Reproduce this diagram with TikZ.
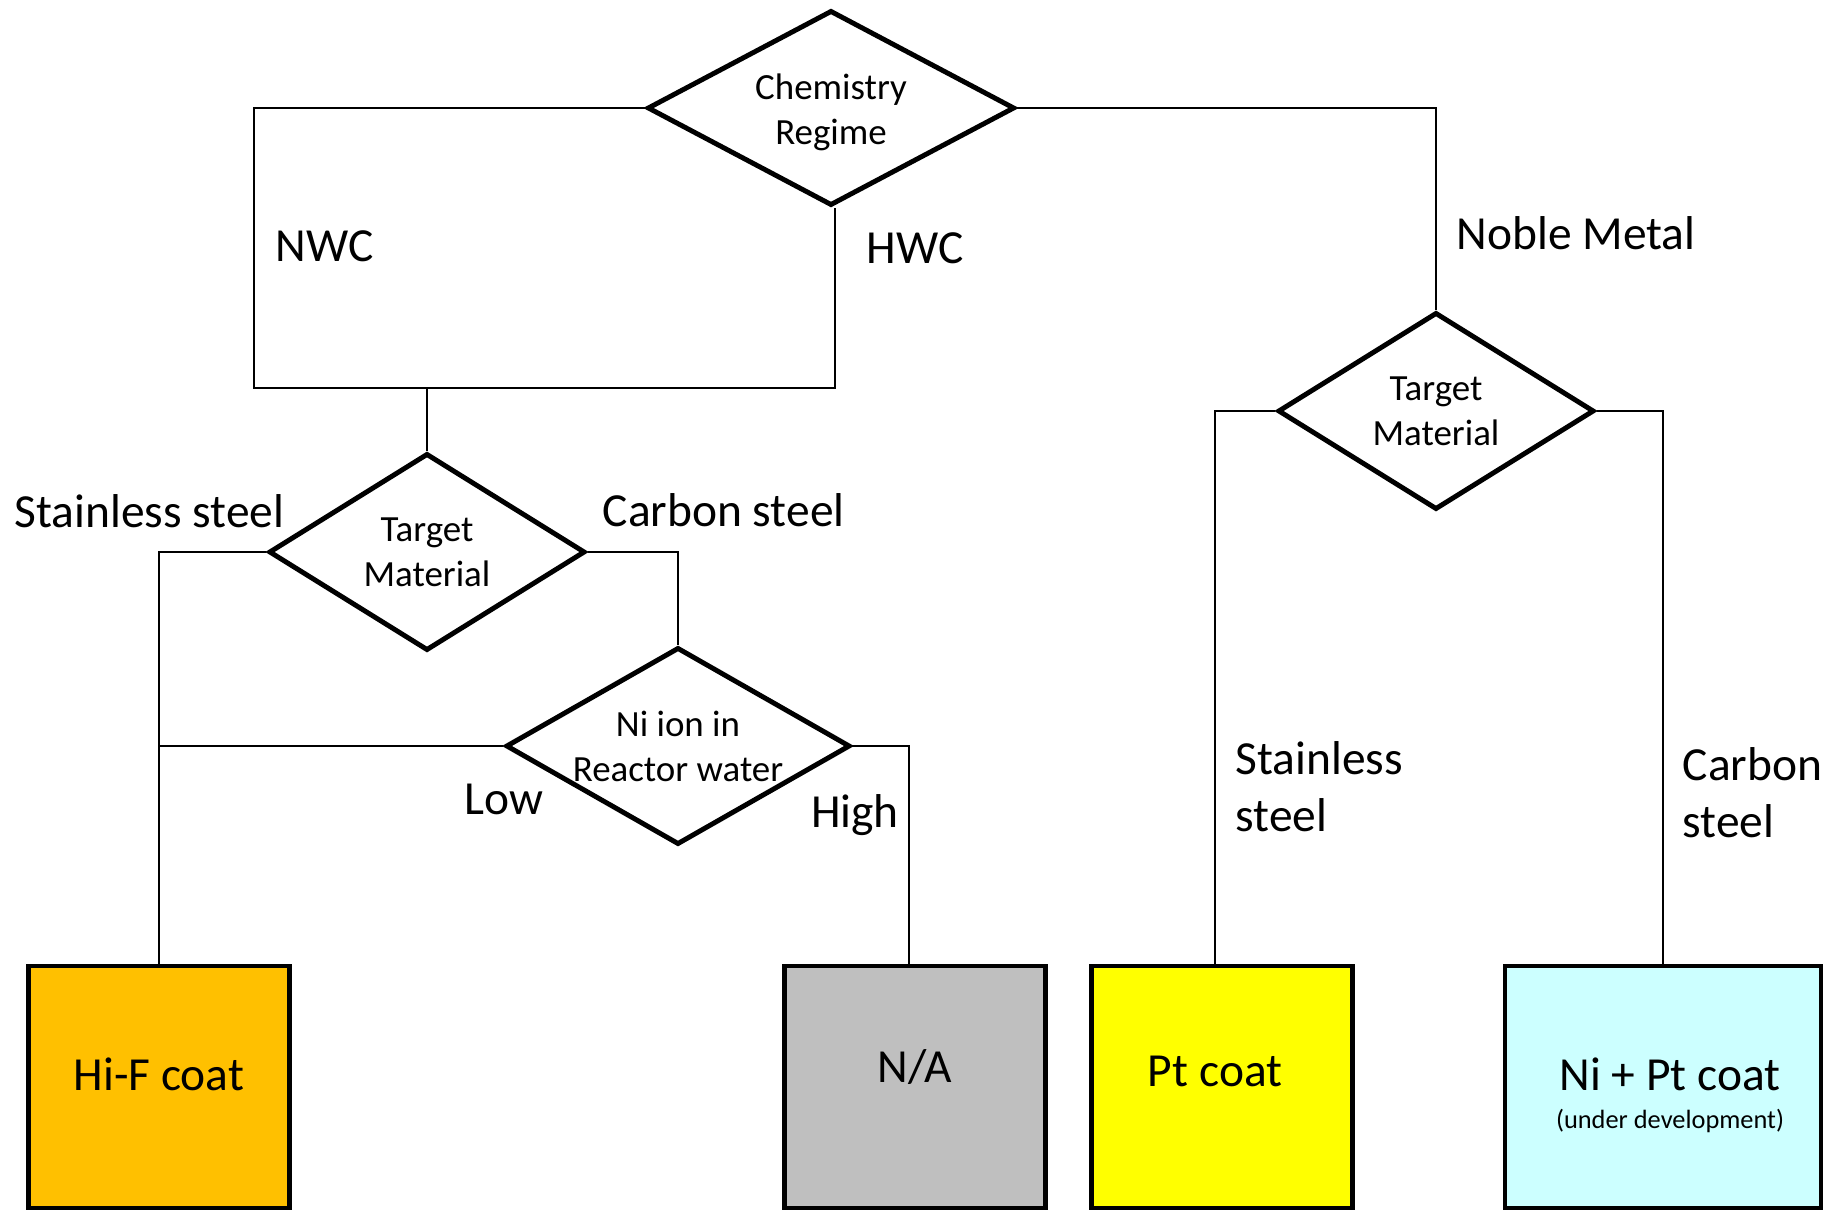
\documentclass[tikz,border=0pt]{standalone}
\usepackage{fontspec}
\setmainfont{Carlito}
\usetikzlibrary{shapes.geometric, positioning}
\definecolor{hifcol}{HTML}{FFC000}
\definecolor{nacol}{HTML}{BFBFBF}
\definecolor{ptcol}{HTML}{FFFF00}
\definecolor{niptcol}{HTML}{CCFFFF}

\begin{document}
\begin{tikzpicture}[x=0.01cm, y=-0.01cm,
    decision/.style={diamond, draw, line width=1.4pt, fill=white, inner sep=0pt,
        aspect=1.8, align=center, minimum width=3.16cm, minimum height=1.97cm,
        font=\fontsize{10.5}{12.8}\selectfont},
    result/.style={rectangle, draw, line width=1.3pt, minimum width=2.61cm,
        minimum height=2.42cm, align=center, font=\fontsize{13.5}{16.2}\selectfont},
    branch/.style={font=\fontsize{13.5}{16.2}\selectfont, align=left, inner sep=0pt},
    link/.style={line width=0.5pt}]
    \useasboundingbox (0,0) rectangle (1834,1210);

    % Decisions
    \node[decision, minimum width=3.67cm, minimum height=1.95cm] (chem) at (831,108) {\rule{0pt}{9.5pt}Chemistry\\Regime};
    \node[decision] (tmleft) at (427,552) {Target\\Material};
    \node[decision] (tmright) at (1436,411) {Target\\Material};
    \node[decision, minimum width=3.44cm, inner xsep=-0.15cm, aspect=1.7] (niion) at (678,746) {Ni ion in\\Reactor water};

    % Results
    \node[result, fill=hifcol, text depth=7.4pt] (hif) at (159,1087) {Hi-F coat};
    \node[result, fill=nacol, text depth=12pt] (na) at (915,1087) {N/A};
    \node[result, fill=ptcol, text depth=9pt] (pt) at (1222,1087) {Pt coat\hspace*{0.14cm}};
    \node[result, fill=niptcol, minimum width=3.16cm] (nipt) at (1663,1087)
        {\hspace*{0.14cm}\rule{0pt}{14pt}Ni + Pt coat\\[-5.3pt]
         \hspace*{0.14cm}{\fontsize{7.5}{9}\selectfont (under development)}};

    % NWC and HWC join above the left target material
    \coordinate (join) at (427,388);
    \draw[link] (chem.west) -| (254,388) -| ([xshift=0.04cm]chem.south);
    \draw[link] (join) -- (tmleft.north);
    \draw[link] (tmleft.west) -| (hif.north);
    \draw[link] (tmleft.east) -| (niion.north);
    \draw[link] (niion.west) -- (niion.west -| hif.north);
    \draw[link] (niion.east) -| ([xshift=-0.06cm]na.north);

    % Noble metal branch
    \draw[link] (chem.east) -| (tmright.north);
    \draw[link] (tmright.west) -| ([xshift=-0.07cm]pt.north);
    \draw[link] (tmright.east) -| (nipt.north);

    % Branch labels
    \node[branch, anchor=west] (nwc) at (275,246) {NWC};
    \node[branch, anchor=west] (hwc) at (866,248) {HWC};
    \node[branch, anchor=west] (noble) at (1456,233) {Noble Metal};
    \node[branch, anchor=west] (ssleft) at (14,511) {Stainless steel};
    \node[branch, anchor=west] (csleft) at (602,510) {Carbon steel};
    \node[branch] (low) at (504,799) {Low};
    \node[branch] (high) at (855,815) {High};
    \node[branch, anchor=west] (ssright) at (1235,787) {Stainless\\steel};
    \node[branch, anchor=west] (csright) at (1682,793) {Carbon\\steel};
\end{tikzpicture}
\end{document}
